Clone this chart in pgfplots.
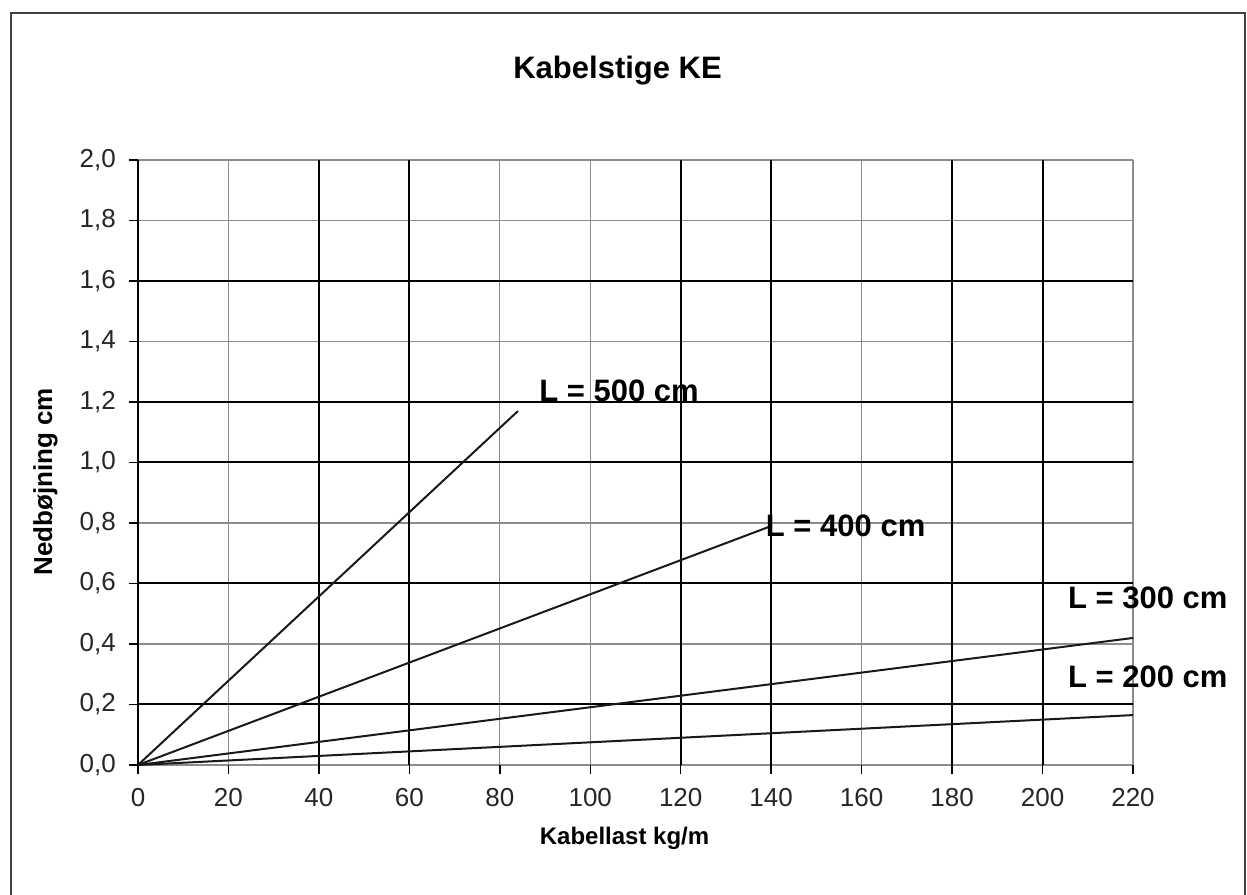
\documentclass[border=0pt]{standalone}
\usepackage{fontspec}
\setmainfont{Liberation Sans}
\usepackage{pgfplots}
\pgfplotsset{compat=1.18}

\begin{document}
\begin{tikzpicture}
\useasboundingbox (0pt,0pt) rectangle (1247pt,894pt);
% frame around the whole chart (bottom edge lies outside the picture)
\draw[line width=2.5pt, black!75] (11pt,-10pt) -- (11pt,881pt) -- (1245pt,881pt) -- (1245pt,-10pt);
\begin{axis}[
  at={(138pt,129pt)}, anchor=south west,
  scale only axis, width=995pt, height=605pt,
  xmin=0, xmax=220, ymin=0, ymax=2,
  xtick={0,20,40,60,80,100,120,140,160,180,200,220},
  ytick={0,0.2,0.4,0.6,0.8,1.0,1.2,1.4,1.6,1.8,2.0},
  grid=major,
  major grid style={black!45, line width=1.3pt},
  axis line style={draw=none},
  tick align=outside, tick pos=left,
  major tick length=9pt,
  tick style={black, line width=1.5pt},
  extra x ticks={0,40,60,120,140,180,200},
  extra x tick labels={},
  extra x tick style={grid=major, major grid style={black, line width=2pt}},
  extra y ticks={0.2,0.6,1.0,1.2,1.6},
  extra y tick labels={},
  extra y tick style={grid=major, major grid style={black, line width=2pt}},
  xticklabel style={font=\fontsize{26}{30}\selectfont, text=black!85, inner sep=0pt, yshift=-14pt},
  yticklabel style={font=\fontsize{26}{30}\selectfont, text=black!85, inner sep=0pt, xshift=-13pt,
    /pgf/number format/.cd, use comma, fixed, fixed zerofill, precision=1},
  /pgf/number format/assume math mode=true,
  title={Kabelstige KE},
  title style={font=\bfseries\fontsize{31}{36}\selectfont, at={(axis description cs:0.482,1.124)}, anchor=base, inner sep=0pt},
  xlabel={Kabellast kg/m},
  xlabel style={font=\bfseries\fontsize{24}{28}\selectfont, at={(axis description cs:0.489,-0.132)}, anchor=base, inner sep=0pt},
  ylabel={Nedbøjning cm},
  ylabel style={font=\bfseries\fontsize{26}{30}\selectfont, at={(axis description cs:-0.0864,0.468)}, anchor=base, rotate=0, inner sep=0pt},
  clip=false,
]
\addplot[black!90, line width=2pt, no marks] coordinates {(0,0) (84,1.17)};
\addplot[black!90, line width=2pt, no marks] coordinates {(0,0) (140,0.79)};
\addplot[black!90, line width=2pt, no marks] coordinates {(0,0) (220,0.42)};
\addplot[black!90, line width=2pt, no marks] coordinates {(0,0) (220,0.165)};
\begin{scope}[every node/.style={font=\bfseries\fontsize{31}{36}\selectfont, anchor=west, inner sep=0pt}]
\node at (axis cs:88.7,1.236) {L = 500 cm};
\node at (axis cs:138.8,0.790) {L = 400 cm};
\node at (axis cs:205.6,0.552) {L = 300 cm};
\node at (axis cs:205.6,0.291) {L = 200 cm};
\end{scope}
\end{axis}
\end{tikzpicture}
\end{document}
